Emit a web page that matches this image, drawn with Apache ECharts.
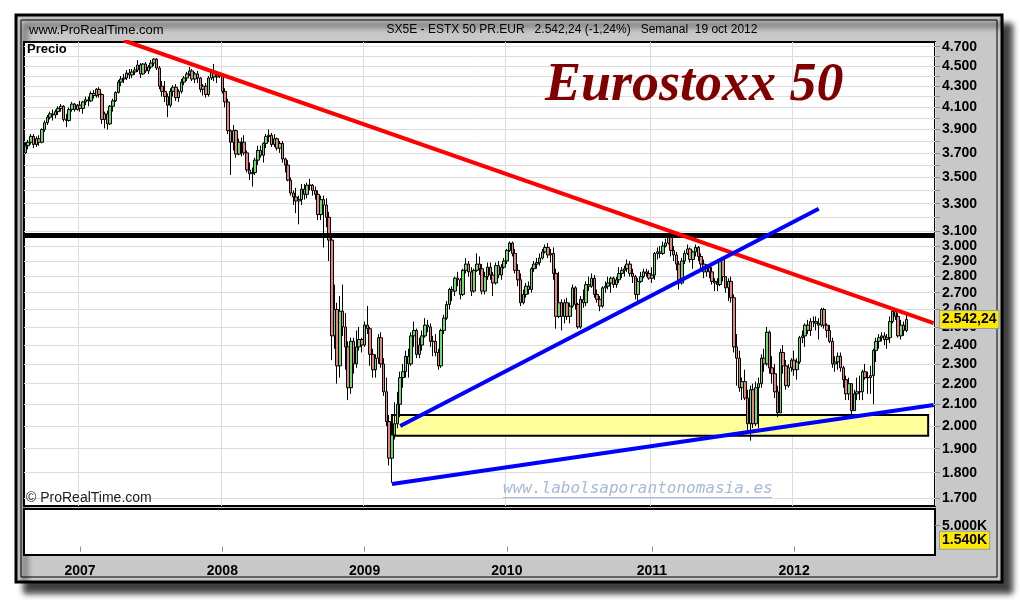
<!DOCTYPE html>
<html><head><meta charset="utf-8">
<script src="https://cdn.jsdelivr.net/npm/echarts@6/dist/echarts.min.js"></script>
<style>html,body{margin:0;padding:0;background:#fff;}#c{width:1020px;height:600px;}</style>
</head><body><div id="c"></div>
<script>
// Weekly candles [open, close, low, high], Fridays from 2006-08-18
const w2006 = [
[3700,3760,3690,3790],[3760,3790,3730,3810],[3790,3840,3770,3860],[3840,3770,3740,3860],[3770,3820,3750,3840],
[3820,3790,3760,3850],[3790,3900,3780,3910],[3900,3960,3880,3980],[3960,4010,3940,4030],[4010,4040,3990,4060],
[4040,4030,3980,4080],[4030,4060,4000,4080],[4060,4090,4030,4110],[4090,4110,4060,4130],[4110,3990,3970,4120],
[3990,3980,3920,4040],[3980,4080,3970,4100],[4080,4130,4060,4150],[4130,4080,4060,4140],[4080,4120,4070,4130]
];
const w2007 = [
[4120,4090,4060,4160],[4090,4150,4040,4160],[4150,4170,4120,4200],[4170,4160,4110,4200],[4160,4230,4150,4250],
[4230,4210,4180,4260],[4210,4270,4190,4280],[4270,4220,4190,4290],[4220,3990,3950,4230],[3990,4040,3910,4060],
[4040,3950,3900,4070],[3950,4110,3940,4120],[4110,4160,4060,4180],[4160,4240,4150,4250],[4240,4340,4230,4360],
[4340,4370,4300,4400],[4370,4380,4330,4420],[4380,4430,4360,4460],[4430,4410,4370,4470],[4410,4440,4380,4470],
[4440,4460,4410,4490],[4460,4510,4440,4560],[4510,4420,4380,4530],[4420,4520,4410,4530],[4520,4450,4430,4540],
[4450,4490,4420,4510],[4490,4530,4470,4560],[4530,4570,4500,4580],[4570,4480,4460,4580],[4480,4300,4270,4500],
[4300,4250,4200,4350],[4250,4200,4150,4350],[4200,4120,4010,4230],[4120,4250,4100,4280],[4250,4290,4200,4310],
[4290,4190,4160,4320],[4190,4250,4150,4270],[4250,4340,4230,4370],[4340,4380,4310,4400],[4380,4420,4350,4440],
[4420,4450,4400,4490],[4450,4370,4350,4470],[4370,4420,4330,4440],[4420,4380,4330,4450],[4380,4270,4240,4390],
[4270,4300,4210,4320],[4300,4220,4190,4330],[4220,4380,4200,4400],[4380,4440,4360,4470],[4440,4390,4350,4520],
[4390,4400,4330,4430],[4400,4420,4380,4440]
];
const w2008 = [
[4420,4250,4230,4430],[4250,4150,4100,4280],[4150,3890,3860,4180],[3890,3790,3520,3900],[3790,3890,3720,3940],
[3890,3690,3660,3900],[3690,3790,3680,3820],[3790,3790,3670,3830],[3790,3700,3680,3850],[3700,3560,3540,3720],
[3560,3530,3480,3620],[3530,3540,3430,3580],[3540,3640,3520,3660],[3640,3720,3600,3760],[3720,3680,3660,3760],
[3680,3780,3620,3790],[3780,3840,3740,3860],[3840,3850,3790,3900],[3850,3770,3750,3870],[3770,3820,3750,3860],
[3820,3740,3720,3830],[3740,3780,3700,3800],[3780,3650,3620,3800],[3650,3600,3540,3660],[3600,3480,3470,3640],
[3480,3380,3360,3500],[3380,3350,3290,3400],[3350,3320,3230,3420],[3320,3330,3150,3360],[3330,3410,3290,3450],
[3410,3370,3330,3450],[3370,3440,3340,3460],[3440,3440,3400,3490],[3440,3400,3360,3450],[3400,3370,3330,3430],
[3370,3220,3180,3400],[3220,3330,3180,3360],[3330,3290,2990,3360],[3290,3200,3130,3340],[3200,3040,2900,3240],
[3040,2450,2320,3060],[2450,2600,2380,2750],[2600,2290,2200,2640],[2290,2590,2230,2680],[2590,2500,2450,2750],
[2500,2390,2270,2580],[2390,2180,2120,2420],[2180,2420,2150,2440],[2420,2300,2250,2440],[2300,2390,2280,2480],
[2390,2430,2370,2500],[2430,2400,2360,2440]
];
const w2009 = [
[2400,2510,2390,2530],[2510,2490,2460,2620],[2490,2350,2290,2500],[2350,2270,2230,2380],[2270,2330,2230,2350],
[2330,2440,2300,2460],[2440,2300,2280,2470],[2300,2160,2140,2330],[2160,2020,2000,2230],[2020,1860,1830,2050],
[1860,1960,1760,1980],[1960,2010,1940,2110],[2010,2100,1990,2160],[2100,2230,2040,2260],[2230,2260,2180,2300],
[2260,2340,2230,2370],[2340,2300,2230,2380],[2300,2450,2290,2470],[2450,2480,2390,2530],[2480,2350,2330,2490],
[2350,2400,2330,2440],[2400,2450,2370,2480],[2450,2510,2440,2550],[2510,2500,2470,2540],[2500,2420,2390,2520],
[2420,2420,2340,2450],[2420,2360,2340,2460],[2360,2290,2270,2380],[2290,2480,2280,2490],[2480,2550,2460,2570],
[2550,2630,2540,2650],[2630,2720,2600,2730],[2720,2710,2650,2740],[2710,2790,2680,2800],[2790,2780,2740,2830],
[2780,2690,2660,2790],[2690,2840,2680,2850],[2840,2880,2820,2920],[2880,2830,2800,2900],[2830,2710,2680,2860],
[2710,2840,2700,2850],[2840,2880,2830,2950],[2880,2850,2810,2930],[2850,2710,2690,2880],[2710,2800,2690,2830],
[2800,2860,2780,2890],[2860,2810,2780,2890],[2810,2760,2680,2830],[2760,2870,2750,2890],[2870,2810,2790,2900],
[2810,2860,2780,2880],[2860,2900,2850,2920]
];
const w2010 = [
[2900,2970,2880,2980],[2970,3020,2960,3030],[3020,2950,2930,3030],[2950,2840,2820,2980],[2840,2780,2740,2880],
[2780,2640,2620,2820],[2640,2690,2630,2720],[2690,2740,2670,2760],[2740,2720,2690,2770],[2720,2850,2700,2860],
[2850,2880,2830,2900],[2880,2890,2850,2920],[2890,2920,2870,2950],[2920,2960,2910,2980],[2960,2990,2950,3010],
[2990,2940,2920,3020],[2940,2950,2890,2980],[2950,2820,2780,2990],[2820,2560,2490,2850],[2560,2640,2550,2830],
[2640,2560,2480,2660],[2560,2640,2520,2660],[2640,2560,2540,2670],[2560,2620,2520,2640],[2620,2730,2610,2750],
[2730,2630,2600,2740],[2630,2500,2490,2640],[2500,2660,2490,2680],[2660,2640,2610,2720],[2640,2750,2620,2770],
[2750,2740,2710,2800],[2740,2790,2730,2820],[2790,2690,2670,2810],[2690,2660,2640,2720],[2660,2620,2590,2680],
[2620,2730,2610,2740],[2730,2740,2700,2770],[2740,2760,2720,2800],[2760,2790,2700,2800],[2790,2750,2730,2800],
[2750,2780,2730,2800],[2780,2820,2760,2860],[2820,2840,2790,2860],[2840,2850,2800,2870],[2850,2880,2830,2910],
[2880,2820,2800,2900],[2820,2800,2760,2850],[2800,2690,2660,2810],[2690,2770,2640,2790],[2770,2800,2760,2830],
[2800,2830,2790,2850],[2830,2820,2800,2850],[2820,2790,2780,2840]
];
const w2011 = [
[2790,2810,2760,2860],[2810,2950,2780,2960],[2950,2960,2910,2990],[2960,2950,2920,3000],[2950,3000,2940,3030],
[3000,3020,2990,3050],[3020,3070,3010,3080],[3070,2970,2930,3080],[2970,2940,2900,3000],[2940,2880,2840,2960],
[2880,2760,2720,2900],[2760,2900,2750,2920],[2900,2950,2880,2970],[2950,2980,2940,3010],[2980,2910,2890,2990],
[2910,2960,2850,2970],[2960,2990,2930,3010],[2990,2930,2900,3000],[2930,2880,2840,2950],[2880,2830,2790,2910],
[2830,2860,2800,2880],[2860,2830,2790,2880],[2830,2770,2750,2860],[2770,2760,2710,2790],[2760,2750,2710,2790],
[2750,2910,2740,2920],[2910,2800,2770,2920],[2800,2730,2700,2800],[2730,2770,2650,2790],[2770,2670,2640,2800],
[2670,2390,2360,2690],[2390,2330,2190,2460],[2330,2180,2160,2370],[2180,2210,2120,2230],[2210,2130,2120,2270],
[2130,2010,1980,2170],[2010,2170,1935,2190],[2170,2010,1990,2200],[2010,2180,2000,2210],[2180,2200,1990,2230],
[2200,2330,2180,2350],[2330,2300,2260,2380],[2300,2470,2290,2500],[2470,2280,2250,2480],[2280,2250,2200,2340],
[2250,2160,2130,2300],[2160,2060,2040,2190],[2060,2360,2060,2380],[2360,2290,2250,2400],[2290,2190,2170,2320],
[2190,2280,2180,2300],[2280,2320,2260,2330]
];
const w2012 = [
[2320,2270,2240,2370],[2270,2310,2220,2330],[2310,2440,2300,2450],[2440,2450,2410,2480],[2450,2510,2390,2520],
[2510,2480,2460,2540],[2480,2530,2450,2550],[2530,2530,2500,2560],[2530,2520,2480,2560],[2520,2510,2430,2550],
[2510,2600,2500,2610],[2600,2510,2490,2610],[2510,2480,2440,2520],[2480,2420,2410,2510],[2420,2300,2280,2440],
[2300,2310,2260,2340],[2310,2340,2270,2360],[2340,2280,2260,2360],[2280,2220,2180,2290],[2220,2150,2120,2240],
[2150,2200,2120,2230],[2200,2070,2050,2200],[2070,2150,2070,2170],[2150,2160,2120,2230],[2160,2160,2120,2240],
[2160,2260,2120,2270],[2260,2230,2220,2300],[2230,2230,2150,2260],[2230,2240,2150,2290],[2240,2370,2100,2380],
[2370,2420,2310,2440],[2420,2440,2380,2460],[2440,2450,2420,2470],[2450,2430,2400,2470],[2430,2440,2380,2460],
[2440,2530,2410,2560],[2530,2590,2520,2610],[2590,2560,2540,2600],[2560,2450,2440,2580],[2450,2510,2430,2540],
[2510,2480,2450,2530],[2480,2542.24,2470,2570]
];

// Trend lines and zones: [date, value]
const redLine   = [['2007-04-27', 4766], ['2012-12-28', 2521]];
const blueLine1 = [['2009-04-03', 2000], ['2012-03-09', 3262]];
const blueLine2 = [['2009-03-13', 1755], ['2012-12-28', 2097]];
const resistance = 3073;
const supportBox = [['2009-03-13', 2050], ['2012-12-14', 1956]];
const lastClose = 2542.24;
const lastVolume = 1540;

const priceTicks = [1700,1800,1900,2000,2100,2200,2300,2400,2500,2600,2700,2800,2900,3000,3100,3200,3300,3400,3500,3600,3700,3800,3900,4000,4100,4200,4300,4400,4500,4600,4700];
const priceLabels = [1700,1800,1900,2000,2100,2200,2300,2400,2500,2600,2700,2800,2900,3000,3100,3300,3500,3700,3900,4100,4300,4500,4700];
const volumeLabels = [5000];

const candles = [].concat(w2006, w2007, w2008, w2009, w2010, w2011, w2012);

// weekly category dates (Fridays) through end of 2012
const dates = [];
const start = Date.UTC(2006, 7, 18);
for (let i = 0; i < 333; i++) {
  dates.push(new Date(start + i * 7 * 86400000).toISOString().slice(0, 10));
}
const yearStart = dates.map((d, i) => i > 0 && d.slice(0, 4) !== dates[i - 1].slice(0, 4));
const isYearStart = (i) => !!yearStart[i];
const dotFmt = (v) => String(Math.round(v)).replace(/\B(?=(\d{3})+(?!\d))/g, '.');

const chart = echarts.init(document.getElementById('c'), null, {renderer: 'canvas'});
const FONT = '"Liberation Sans", Arial, sans-serif';

chart.setOption({
  animation: false,
  backgroundColor: '#ffffff',
  grid: [
    {left: 24, right: 85, top: 42, height: 464, show: true, backgroundColor: '#ffffff', borderColor: '#000', borderWidth: 2},
    {left: 24, right: 85, top: 509, height: 46, show: true, backgroundColor: '#ffffff', borderColor: '#000', borderWidth: 2}
  ],
  xAxis: [
    {type: 'category', gridIndex: 0, data: dates, boundaryGap: true,
     axisLine: {show: false}, axisTick: {show: false}, axisLabel: {show: false},
     splitLine: {show: true, interval: isYearStart, lineStyle: {color: '#dcdcdc', width: 1}}},
    {type: 'category', gridIndex: 1, data: dates, boundaryGap: true,
     axisLine: {show: false},
     axisTick: {show: true, alignWithLabel: true, interval: isYearStart, length: 5, lineStyle: {color: '#8c8c8c'}},
     axisLabel: {show: true, interval: isYearStart, formatter: (v) => v.slice(0, 4), color: '#000',
                 fontFamily: FONT, fontSize: 14, fontWeight: 'bold', margin: 9},
     splitLine: {show: false}}
  ],
  yAxis: [
    {type: 'log', gridIndex: 0, min: 1670, max: 4750, position: 'right',
     axisLine: {show: false},
     axisTick: {show: true, customValues: priceTicks, length: 5, lineStyle: {color: '#8c8c8c'}},
     axisLabel: {show: true, customValues: priceLabels, formatter: dotFmt, color: '#000',
                 fontFamily: FONT, fontSize: 14, fontWeight: 'bold', margin: 7},
     splitLine: {show: true, lineStyle: {color: '#dcdcdc', width: 1}}},
    {type: 'value', gridIndex: 1, min: -2000, max: 9000, position: 'right',
     axisLine: {show: false},
     axisTick: {show: true, customValues: volumeLabels, length: 5, lineStyle: {color: '#8c8c8c'}},
     axisLabel: {show: true, customValues: volumeLabels, formatter: (v) => dotFmt(v) + 'K', color: '#000',
                 fontFamily: FONT, fontSize: 14, fontWeight: 'bold', margin: 7},
     splitLine: {show: false}}
  ],
  series: [
    {type: 'candlestick', xAxisIndex: 0, yAxisIndex: 0, data: candles, barWidth: 3, silent: true,
     itemStyle: {color: '#66e066', color0: '#f08080', borderColor: '#000', borderColor0: '#000', borderWidth: 1},
     markArea: {silent: true, z: 1,
       itemStyle: {color: '#ffff99', borderColor: '#000', borderWidth: 2},
       data: [[{coord: supportBox[0]}, {coord: supportBox[1]}]]},
     markLine: {silent: true, symbol: 'none', z: 5, animation: false,
       data: [
         {yAxis: resistance, lineStyle: {color: '#000', width: 5, type: 'solid'}, label: {show: false}},
         {yAxis: lastClose, lineStyle: {color: 'rgba(0,0,0,0)', width: 0},
          label: {show: true, position: 'end', distance: 5, formatter: '2.542,24', color: '#000',
                  fontFamily: FONT, fontSize: 14, fontWeight: 'bold', backgroundColor: '#ffe800', borderColor: '#8aa0b8',
                  borderWidth: 1, padding: [2, 2, 1, 2]}}
       ]}},
    {type: 'line', xAxisIndex: 0, yAxisIndex: 0, data: redLine, symbol: 'none', silent: true, z: 10,
     lineStyle: {color: '#ff0000', width: 4}},
    {type: 'line', xAxisIndex: 0, yAxisIndex: 0, data: blueLine1, symbol: 'none', silent: true, z: 10,
     lineStyle: {color: '#0000ff', width: 4}},
    {type: 'line', xAxisIndex: 0, yAxisIndex: 0, data: blueLine2, symbol: 'none', silent: true, z: 10,
     lineStyle: {color: '#0000ff', width: 4}},
    {type: 'bar', xAxisIndex: 1, yAxisIndex: 1, data: [], silent: true,
     markLine: {silent: true, symbol: 'none', animation: false,
       data: [{yAxis: lastVolume, lineStyle: {color: 'rgba(0,0,0,0)', width: 0},
               label: {show: true, position: 'end', distance: 5, formatter: '1.540K', color: '#000',
                       fontFamily: FONT, fontSize: 14, fontWeight: 'bold', backgroundColor: '#ffe800', borderColor: '#8aa0b8',
                       borderWidth: 1, padding: [2, 2, 1, 2]}}]}}
  ],
  graphic: [
    {type: 'rect', z: -10, silent: true, shape: {x: 16, y: 15, width: 986, height: 567},
     style: {fill: '#c8c8c8', stroke: '#000', lineWidth: 3, shadowBlur: 6, shadowOffsetX: 9, shadowOffsetY: 10, shadowColor: 'rgba(0,0,0,0.75)'}},
    {type: 'rect', z: -9, silent: true, shape: {x: 21, y: 20, width: 976, height: 557},
     style: {fill: 'none', stroke: '#000', lineWidth: 1}},
    {type: 'text', z: 100, silent: true, style: {text: 'www.ProRealTime.com', x: 29, y: 30, textAlign: 'left', textVerticalAlign: 'middle', font: '13px ' + FONT, fill: '#000'}},
    {type: 'text', z: 100, silent: true, style: {text: 'SX5E - ESTX 50 PR.EUR   2.542,24 (-1,24%)   Semanal  19 oct 2012', x: 572, y: 30, textAlign: 'center', textVerticalAlign: 'middle', font: '12px ' + FONT, fill: '#000'}},
    {type: 'text', z: 100, silent: true, style: {text: 'Precio', x: 27, y: 49, textAlign: 'left', textVerticalAlign: 'middle', font: 'bold 13px ' + FONT, fill: '#000'}},
    {type: 'text', z: 100, silent: true, style: {text: 'Eurostoxx 50', x: 545, y: 86, textAlign: 'left', textVerticalAlign: 'middle', font: 'italic bold 54px "Liberation Serif", "Times New Roman", serif', fill: '#800000'}},
    {type: 'text', z: 100, silent: true, style: {text: '© ProRealTime.com', x: 26, y: 498, textAlign: 'left', textVerticalAlign: 'middle', font: '14px ' + FONT, fill: '#222'}},
    {type: 'text', z: 100, silent: true, style: {text: 'www.labolsaporantonomasia.es', x: 503, y: 489, textAlign: 'left', textVerticalAlign: 'middle', font: 'italic 16px "DejaVu Sans Mono", monospace', fill: '#a6bad6'}},
    {type: 'line', z: 100, silent: true, shape: {x1: 503, y1: 497.5, x2: 772, y2: 497.5}, style: {stroke: '#a6bad6', lineWidth: 1}}
  ]
});
</script>
</body></html>
